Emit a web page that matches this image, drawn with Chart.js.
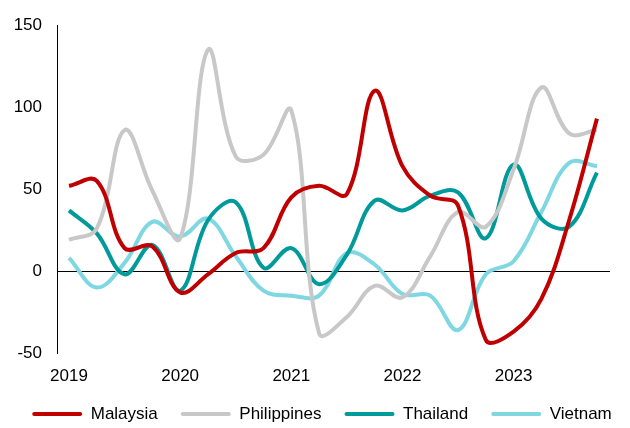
<!DOCTYPE html>
<html><head><meta charset="utf-8">
<script src="https://cdn.jsdelivr.net/npm/chart.js@4"></script>
<style>html,body{margin:0;padding:0;background:#fff;overflow:hidden;}</style>
</head><body>
<canvas id="c" width="630" height="428"></canvas>
<script>
const quarters = ['2019 Q1','2019 Q2','2019 Q3','2019 Q4','2020 Q1','2020 Q2','2020 Q3','2020 Q4',
  '2021 Q1','2021 Q2','2021 Q3','2021 Q4','2022 Q1','2022 Q2','2022 Q3','2022 Q4',
  '2023 Q1','2023 Q2','2023 Q3','2023 Q4'];
const tickLabels = ['2019','','','','2020','','','','2021','','','','2022','','','','2023','','',''];
const malaysia    = [52, 55, 14, 15, -13, -2, 11, 14, 45, 52, 47, 110, 64, 46, 40, -42, -37, -17, 31, 93];
const philippines = [19, 26, 86, 49, 20, 135, 70, 71, 98, -38, -28, -9, -16, 9, 36, 27, 62, 112, 84, 86];
const thailand    = [37, 23, -2, 16, -12, 31, 42, 2, 14, -8, 10, 43, 37, 46, 48, 20, 65, 32, 27, 60];
const vietnam     = [8, -10, 5, 30, 21, 32, 9, -12, -15, -15, 11, 4, -14, -15, -36, -2, 6, 36, 66, 64];
const yTicks = [-50, 0, 50, 100, 150];

const seriesNames = ['Malaysia', 'Philippines', 'Thailand', 'Vietnam'];
const seriesData = [malaysia, philippines, thailand, vietnam];
const seriesColors = ['#C00000', '#C8C8C8', '#009A9A', '#7FD7E1'];

Chart.defaults.font.family = "'Liberation Sans', Arial, sans-serif";
Chart.defaults.font.size = 17;
Chart.defaults.color = '#000';

const toPoints = arr => arr.map((v, i) => ({x: i, y: v}));

const legendShift = {
  id: 'legendShift',
  afterLayout(chart) {
    if (chart.legend) { chart.legend.left += 7; chart.legend.right += 7; }
  }
};

new Chart(document.getElementById('c'), {
  type: 'line',
  plugins: [legendShift],
  data: {
    labels: quarters,
    datasets: seriesNames.map((n, k) => ({
      label: n,
      data: toPoints(seriesData[k]),
      borderColor: seriesColors[k],
      backgroundColor: seriesColors[k],
      borderWidth: 4,
      pointRadius: 0,
      tension: 0.38,
      fill: false
    }))
  },
  options: {
    responsive: false,
    animation: false,
    layout: {padding: {top: 20.5, right: 0, left: 0, bottom: 0}},
    plugins: {
      tooltip: {enabled: false},
      legend: {
        position: 'bottom',
        maxHeight: 45.5,
        labels: {
          boxWidth: 50,
          boxHeight: 4,
          padding: 23,
          useBorderRadius: true,
          borderRadius: 2,
          generateLabels: chart => Chart.defaults.plugins.legend.labels.generateLabels(chart).map(l => ({...l, lineWidth: 0, fillStyle: seriesColors[l.datasetIndex]}))
        }
      }
    },
    scales: {
      x: {
        type: 'linear',
        min: -0.432,
        max: 19.47,
        grid: {display: false},
        border: {display: false},
        afterBuildTicks: s => { s.ticks = tickLabels.map((t, i) => t ? {value: i} : null).filter(Boolean); },
        afterFit: s => { s.height = 29.5; },
        ticks: {
          padding: 5,
          maxRotation: 0,
          autoSkip: false,
          callback: v => tickLabels[v]
        }
      },
      y: {
        min: -50,
        max: 150,
        afterBuildTicks: s => { s.ticks = yTicks.map(v => ({value: v})); },
        afterFit: s => { s.width = 57; },
        grid: {
          drawTicks: false,
          color: c => (c.tick && c.tick.value === 0) ? '#000' : 'rgba(0,0,0,0)',
          lineWidth: 1
        },
        border: {display: true, color: '#000', width: 1},
        ticks: {padding: 15}
      },
      yr: {
        type: 'linear',
        position: 'right',
        afterFit: s => { s.width = 20; },
        grid: {display: false},
        border: {display: false},
        ticks: {display: false}
      }
    }
  }
});
</script>
</body></html>
